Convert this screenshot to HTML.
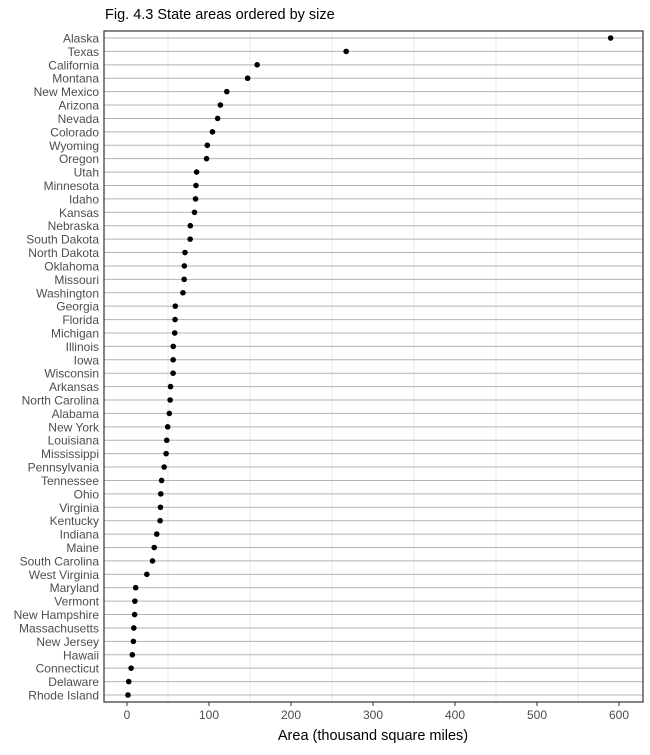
<!DOCTYPE html>
<html><head><meta charset="utf-8">
<style>
body{margin:0;background:#fff;font-family:"Liberation Sans",sans-serif;}
</style></head>
<body>
<svg id="chart" width="650" height="750" xmlns="http://www.w3.org/2000/svg">
<text x="105" y="19" font-size="14.5" fill="#000">Fig. 4.3 State areas ordered by size</text>
<g id="grid"></g>
<g id="marks"></g>
<g id="axes"></g>
<text x="373" y="740" font-size="14.5" text-anchor="middle" fill="#000">Area (thousand square miles)</text>
</svg>
<script>
const states = ["Alaska","Texas","California","Montana","New Mexico","Arizona","Nevada","Colorado","Wyoming","Oregon","Utah","Minnesota","Idaho","Kansas","Nebraska","South Dakota","North Dakota","Oklahoma","Missouri","Washington","Georgia","Florida","Michigan","Illinois","Iowa","Wisconsin","Arkansas","North Carolina","Alabama","New York","Louisiana","Mississippi","Pennsylvania","Tennessee","Ohio","Virginia","Kentucky","Indiana","Maine","South Carolina","West Virginia","Maryland","Vermont","New Hampshire","Massachusetts","New Jersey","Hawaii","Connecticut","Delaware","Rhode Island"];
const areas = [589.8,267.3,158.7,147.1,121.7,113.9,110.5,104.2,97.9,97.0,84.9,84.1,83.6,82.3,77.2,77.0,70.7,69.9,69.7,68.2,58.9,58.6,58.2,56.4,56.3,56.2,53.1,52.6,51.6,49.6,48.5,47.7,45.3,42.2,41.2,40.8,40.4,36.3,33.2,31.1,24.2,10.6,9.6,9.3,8.3,7.8,6.5,5.0,2.1,1.2];
const xTicks = [0,100,200,300,400,500,600];
const xMinor = [50,150,250,350,450,550];

const NS="http://www.w3.org/2000/svg";
const L=104,R=643,T=31,B=702;
const x=v=>127+v*(619-127)/600;
const y=i=>38+i*(695-38)/49;
function mk(tag,attrs,parent){const e=document.createElementNS(NS,tag);for(const k in attrs)e.setAttribute(k,attrs[k]);document.getElementById(parent).appendChild(e);return e;}

xMinor.forEach(v=>{
  const g=mk('line',{x1:x(v),x2:x(v),y1:T,y2:B,stroke:'#ebebeb','stroke-width':1},'grid');
  
  
});
states.forEach((s,i)=>{
  const g=mk('line',{x1:L,x2:R,y1:y(i),y2:y(i),stroke:'#b3b3b3','stroke-width':1},'grid');
  
  
  const t=mk('text',{x:L-5,y:y(i)+4.5,'font-size':12,'text-anchor':'end',fill:'#4d4d4d'},'axes');
  t.textContent=s;
  
  
  const c=mk('circle',{cx:x(areas[i]),cy:y(i),r:2.8,fill:'#000'},'marks');
  
  
});
xTicks.forEach(v=>{
  const tk=mk('line',{x1:x(v),x2:x(v),y1:B,y2:B+4,stroke:'#333','stroke-width':1},'axes');
  
  
  const t=mk('text',{x:x(v),y:B+17,'font-size':12,'text-anchor':'middle',fill:'#4d4d4d'},'axes');
  t.textContent=v;
  
  
});
const p=mk('rect',{x:L,y:T,width:R-L,height:B-T,fill:'none',stroke:'#333','stroke-width':1.2},'axes');


</script>
</body></html>
